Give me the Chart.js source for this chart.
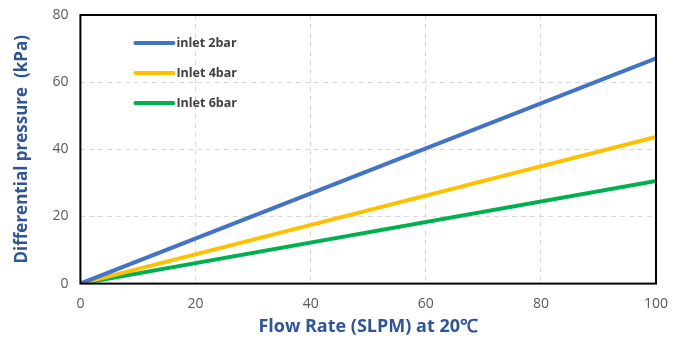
<!DOCTYPE html>
<html>
<head>
<meta charset="utf-8">
<script src="https://cdn.jsdelivr.net/npm/chart.js@4/dist/chart.umd.min.js"></script>
<style>
  html, body { margin: 0; padding: 0; background: #fff; }
  #wrap { width: 680px; height: 342px; }
</style>
</head>
<body>
<div id="wrap"><canvas id="myChart"></canvas></div>
<script>
const flowRates = [0, 100];
const inlet2bar = [0, 67.1];
const inlet4bar = [0, 43.7];
const inlet6bar = [0, 30.6];
const seriesNames = ['inlet 2bar', 'Inlet 4bar', 'Inlet 6bar'];
const seriesColors = ['#4472C4', '#FFC000', '#00B050'];

const toPoints = (ys) => flowRates.map((x, i) => ({ x: x, y: ys[i] }));

// box around the plot area + legend drawn inside it
const framePlugin = {
    id: 'frame',
    afterDatasetsDraw(chart) {
        const { ctx, chartArea: a } = chart;
        ctx.save();
        ctx.strokeStyle = '#000';
        ctx.lineWidth = 2;
        ctx.strokeRect(a.left, a.top, a.right - a.left, a.bottom - a.top);

        ctx.font = 'bold 12.5px "Open Sans", sans-serif';
        ctx.textBaseline = 'middle';
        chart.data.datasets.forEach((ds, i) => {
            const y = a.top + 28 + i * 30;
            const x0 = a.left + 55;
            ctx.strokeStyle = ds.borderColor;
            ctx.lineWidth = 4;
            ctx.lineCap = 'round';
            ctx.beginPath();
            ctx.moveTo(x0, y);
            ctx.lineTo(x0 + 38, y);
            ctx.stroke();
            ctx.fillStyle = '#404040';
            ctx.fillText(ds.label, x0 + 41, y);
        });
        ctx.restore();
    }
};

const ctx = document.getElementById('myChart').getContext('2d');
const myChart = new Chart(ctx, {
    type: 'line',
    data: {
        datasets: [inlet2bar, inlet4bar, inlet6bar].map((ys, i) => ({
            label: seriesNames[i],
            data: toPoints(ys),
            borderColor: seriesColors[i],
            backgroundColor: seriesColors[i],
            borderWidth: 4,
            pointRadius: 0,
            tension: 0
        }))
    },
    options: {
        responsive: true,
        maintainAspectRatio: false,
        animation: false,
        layout: { padding: { top: 15, right: 24, left: 12, bottom: 4 } },
        plugins: {
            legend: { display: false },
            tooltip: { enabled: false }
        },
        scales: {
            x: {
                type: 'linear',
                min: 0,
                max: 100,
                ticks: {
                    stepSize: 20,
                    padding: 3,
                    color: '#595959',
                    font: { family: '"Open Sans", sans-serif', size: 14 }
                },
                grid: { color: '#d9d9d9', drawTicks: true, tickLength: 9, tickColor: 'transparent' },
                border: { display: false, dash: [5, 4] },
                title: {
                    display: true,
                    text: 'Flow Rate (SLPM) at 20℃',
                    color: '#2F5597',
                    padding: { top: 1, bottom: 0 },
                    font: { family: '"Open Sans", sans-serif', size: 18, weight: 'bold' }
                }
            },
            y: {
                min: 0,
                max: 80,
                ticks: {
                    stepSize: 20,
                    padding: 0,
                    color: '#595959',
                    font: { family: '"Open Sans", sans-serif', size: 14 }
                },
                grid: { color: '#d9d9d9', drawTicks: true, tickLength: 12, tickColor: 'transparent' },
                border: { display: false, dash: [5, 4] },
                title: {
                    display: true,
                    text: 'Differential pressure  (kPa)',
                    color: '#2F5597',
                    padding: { top: 0, bottom: 20 },
                    font: { family: '"Open Sans", sans-serif', size: 17, weight: 'bold' }
                }
            }
        }
    },
    plugins: [framePlugin]
});
</script>
</body>
</html>
